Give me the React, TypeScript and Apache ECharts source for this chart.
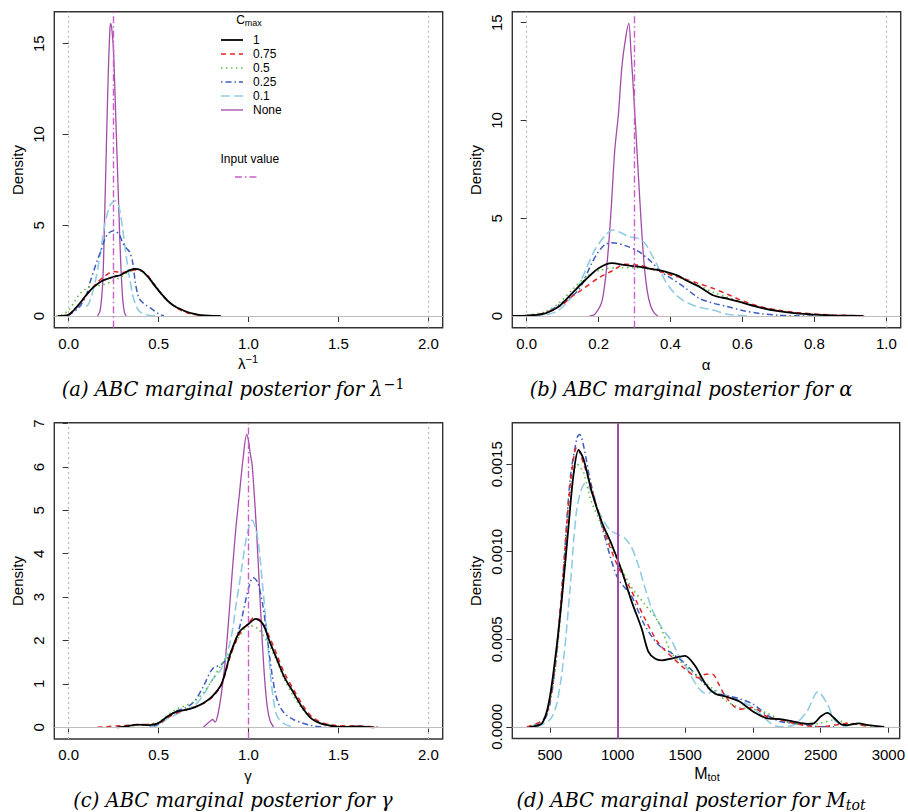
import React, { useEffect, useRef } from 'react';
import * as echarts from 'echarts';

// ---------- Panel (a): lambda^-1 ----------
const aNone = [[0.16,0],[0.175,0.3],[0.19,2],[0.2,5.5],[0.21,9.5],[0.22,13.3],[0.23,15.9],[0.235,16.1],[0.242,15.6],[0.25,14.5],[0.26,11.5],[0.27,8.5],[0.28,5.5],[0.29,2.8],[0.3,1.0],[0.31,0.2],[0.32,0]];
const aC01 = [[-0.03,0],[0,0.08],[0.03,0.4],[0.06,0.55],[0.1,0.55],[0.12,0.9],[0.15,2.0],[0.18,3.7],[0.2,5.0],[0.23,6.1],[0.26,6.35],[0.28,6.0],[0.3,4.8],[0.32,3.3],[0.34,2.0],[0.36,1.0],[0.38,0.45],[0.4,0.2],[0.45,0.03],[0.5,0]];
const aC025 = [[-0.03,0],[0,0.05],[0.05,0.4],[0.08,0.8],[0.1,1.2],[0.12,1.9],[0.14,2.5],[0.16,3.1],[0.18,3.6],[0.2,4.2],[0.22,4.55],[0.25,4.7],[0.28,4.5],[0.3,4.05],[0.32,3.75],[0.34,3.5],[0.355,3.0],[0.37,1.9],[0.385,1.15],[0.4,0.85],[0.43,0.6],[0.46,0.4],[0.5,0.12],[0.53,0]];
const aC05 = [[-0.07,0],[-0.04,0.05],[0,0.33],[0.03,0.75],[0.06,1.2],[0.09,1.45],[0.12,1.62],[0.16,1.65],[0.2,1.75],[0.24,1.9],[0.29,2.15],[0.33,2.4],[0.37,2.55],[0.4,2.5],[0.45,2.1],[0.5,1.45],[0.55,0.85],[0.6,0.5],[0.65,0.22],[0.7,0.08],[0.75,0.03],[0.82,0]];
const aC075 = [[-0.05,0],[0,0.08],[0.05,0.55],[0.1,1.15],[0.15,1.75],[0.2,2.2],[0.25,2.45],[0.3,2.4],[0.35,2.5],[0.38,2.55],[0.42,2.4],[0.45,2.1],[0.5,1.4],[0.55,0.85],[0.6,0.45],[0.65,0.2],[0.7,0.08],[0.75,0.02],[0.8,0]];
const aC1 = [[-0.06,0],[-0.03,0.01],[0,0.06],[0.03,0.33],[0.07,0.8],[0.105,1.25],[0.14,1.6],[0.18,1.9],[0.217,2.05],[0.254,2.17],[0.29,2.26],[0.33,2.48],[0.365,2.6],[0.4,2.53],[0.44,2.17],[0.476,1.7],[0.513,1.25],[0.55,0.84],[0.587,0.55],[0.624,0.37],[0.66,0.22],[0.7,0.11],[0.735,0.05],[0.78,0.02],[0.846,0]];

// ---------- Panel (b): alpha ----------
const bNone = [[0.175,0],[0.19,0.1],[0.21,0.8],[0.225,3],[0.235,5.5],[0.245,8.5],[0.255,10.3],[0.265,12.8],[0.275,14.2],[0.284,14.96],[0.29,13.5],[0.297,11.5],[0.305,9],[0.315,5.8],[0.325,3],[0.335,1.3],[0.345,0.5],[0.355,0.15],[0.365,0]];
const bC01 = [[0.02,0],[0.04,0.02],[0.08,0.2],[0.11,0.65],[0.14,1.4],[0.17,2.6],[0.19,3.4],[0.22,4.15],[0.24,4.4],[0.265,4.23],[0.285,4.05],[0.31,3.97],[0.33,3.7],[0.35,3.05],[0.372,2.27],[0.39,1.65],[0.42,1.0],[0.45,0.65],[0.48,0.45],[0.52,0.3],[0.55,0.12],[0.58,0.04],[0.62,0]];
const bC025 = [[-0.02,0],[0,0.02],[0.05,0.15],[0.1,0.7],[0.144,1.33],[0.181,2.7],[0.2,3.3],[0.218,3.65],[0.237,3.75],[0.274,3.6],[0.311,3.3],[0.348,2.75],[0.372,2.27],[0.4,1.95],[0.44,1.45],[0.48,0.9],[0.52,0.65],[0.56,0.47],[0.6,0.28],[0.65,0.12],[0.7,0.04],[0.75,0.01],[0.8,0]];
const bC05 = [[-0.04,0],[0,0.05],[0.052,0.22],[0.089,0.65],[0.126,1.33],[0.163,1.98],[0.2,2.32],[0.255,2.47],[0.311,2.47],[0.367,2.32],[0.4,2.15],[0.44,1.85],[0.48,1.55],[0.52,1.2],[0.56,0.95],[0.6,0.7],[0.65,0.45],[0.7,0.28],[0.75,0.16],[0.8,0.09],[0.85,0.04],[0.9,0.01],[0.94,0]];
const bC075 = [[-0.04,0],[0,0.03],[0.05,0.15],[0.1,0.6],[0.126,1.0],[0.15,1.3],[0.2,1.95],[0.237,2.3],[0.274,2.65],[0.311,2.6],[0.35,2.4],[0.4,2.1],[0.44,1.9],[0.48,1.65],[0.52,1.4],[0.56,1.1],[0.6,0.78],[0.65,0.48],[0.7,0.3],[0.75,0.18],[0.8,0.1],[0.85,0.05],[0.9,0.02],[0.94,0]];
const bC1 = [[-0.04,0],[0,0.02],[0.052,0.14],[0.089,0.48],[0.126,1.16],[0.163,1.84],[0.2,2.44],[0.237,2.7],[0.274,2.6],[0.311,2.52],[0.348,2.4],[0.385,2.27],[0.422,2.05],[0.44,1.85],[0.48,1.5],[0.52,1.05],[0.56,0.88],[0.6,0.68],[0.65,0.43],[0.7,0.25],[0.75,0.13],[0.8,0.07],[0.852,0.03],[0.935,0]];

// ---------- Panel (c): gamma ----------
const cNone = [[0.75,0],[0.77,0.08],[0.79,0.15],[0.8,0.18],[0.815,0.12],[0.83,0.3],[0.85,0.8],[0.87,1.5],[0.89,2.5],[0.91,3.6],[0.93,4.6],[0.95,5.4],[0.97,6.2],[0.99,6.75],[1.0,6.6],[1.01,6.3],[1.02,6.05],[1.03,5.5],[1.045,4.5],[1.06,3.3],[1.075,2.1],[1.09,1.1],[1.105,0.45],[1.12,0.15],[1.14,0]];
const cC01 = [[0.45,0],[0.5,0.05],[0.55,0.2],[0.6,0.3],[0.65,0.4],[0.7,0.5],[0.75,0.75],[0.8,1.1],[0.85,1.35],[0.9,2.0],[0.93,2.8],[0.96,3.6],[0.99,4.4],[1.02,4.77],[1.05,4.4],[1.08,3.2],[1.1,2.3],[1.12,1.3],[1.14,0.6],[1.16,0.25],[1.2,0.08],[1.25,0]];
const cC025 = [[0.45,0],[0.5,0.08],[0.55,0.25],[0.6,0.38],[0.65,0.45],[0.7,0.6],[0.75,0.95],[0.8,1.35],[0.85,1.45],[0.9,1.7],[0.95,2.3],[1.0,3.2],[1.025,3.45],[1.05,3.35],[1.08,2.8],[1.1,2.2],[1.13,1.25],[1.16,0.62],[1.2,0.32],[1.25,0.18],[1.3,0.1],[1.35,0.04],[1.4,0.01],[1.43,0]];
const cC05 = [[0.3,0],[0.35,0.03],[0.4,0.05],[0.5,0.12],[0.55,0.28],[0.6,0.42],[0.65,0.5],[0.7,0.6],[0.75,0.8],[0.8,1.1],[0.85,1.45],[0.9,1.75],[0.95,2.1],[1.0,2.35],[1.05,2.28],[1.1,2.0],[1.15,1.6],[1.2,1.1],[1.25,0.72],[1.3,0.42],[1.35,0.22],[1.4,0.1],[1.5,0.03],[1.6,0.01],[1.7,0]];
const cC075 = [[0.16,0],[0.2,0.01],[0.3,0.04],[0.4,0.06],[0.5,0.09],[0.55,0.22],[0.6,0.33],[0.65,0.4],[0.7,0.47],[0.75,0.55],[0.8,0.7],[0.85,0.98],[0.9,1.65],[0.95,2.15],[1.0,2.4],[1.03,2.52],[1.07,2.45],[1.12,2.05],[1.16,1.65],[1.2,1.25],[1.25,0.88],[1.3,0.52],[1.35,0.25],[1.4,0.12],[1.45,0.06],[1.5,0.04],[1.6,0.03],[1.7,0.01],[1.72,0]];
const cC1 = [[0.27,0],[0.32,0.02],[0.38,0.06],[0.45,0.05],[0.5,0.1],[0.55,0.25],[0.6,0.36],[0.65,0.4],[0.7,0.46],[0.75,0.56],[0.8,0.72],[0.85,1.0],[0.9,1.7],[0.95,2.2],[1.0,2.38],[1.04,2.5],[1.08,2.38],[1.12,1.95],[1.16,1.55],[1.2,1.15],[1.25,0.8],[1.3,0.45],[1.35,0.2],[1.4,0.09],[1.45,0.04],[1.5,0.01],[1.55,0.01],[1.6,0.02],[1.65,0.01],[1.7,0]];

// ---------- Panel (d): M_tot ----------
const dC01 = [[400,0],[500,0.00004],[550,0.00013],[600,0.00038],[650,0.0008],[700,0.00125],[760,0.00139],[800,0.00135],[850,0.00125],[900,0.00117],[950,0.00112],[1000,0.0011],[1050,0.00108],[1100,0.00103],[1150,0.00093],[1200,0.0008],[1250,0.00068],[1300,0.0006],[1350,0.00054],[1400,0.00049],[1450,0.00041],[1500,0.00035],[1550,0.00028],[1600,0.00022],[1650,0.00019],[1700,0.0002],[1750,0.00021],[1800,0.00018],[1900,0.00015],[2000,0.00011],[2100,0.00004],[2150,0.00001],[2200,0],[2300,0.00001],[2400,0.00009],[2480,0.0002],[2550,0.00013],[2600,0.00004],[2650,0.00001],[2700,0]];
const dC025 = [[350,0],[450,0.00003],[500,0.00013],[550,0.00042],[600,0.0009],[650,0.00142],[700,0.00165],[720,0.00167],[750,0.0016],[800,0.0014],[900,0.0011],[1000,0.00085],[1100,0.00075],[1200,0.00058],[1300,0.00047],[1400,0.00042],[1500,0.00036],[1600,0.00028],[1700,0.0002],[1800,0.00018],[1900,0.00016],[2000,0.00013],[2100,0.00007],[2200,0.00003],[2300,0.00002],[2400,0.00001],[2500,0],[2600,0]];
const dC05 = [[350,0],[450,0.00004],[500,0.00014],[550,0.0004],[600,0.00085],[650,0.0013],[700,0.0015],[750,0.00145],[800,0.0013],[900,0.00112],[1000,0.00095],[1100,0.0008],[1200,0.0007],[1300,0.0006],[1400,0.00042],[1500,0.00035],[1600,0.00028],[1700,0.00022],[1800,0.00015],[1900,0.00011],[2000,0.0001],[2100,0.00008],[2200,0.00004],[2300,0.00002],[2400,0.00001],[2500,0.00002],[2600,0.00004],[2700,0.00002],[2800,0.00001],[2900,0]];
const dC075 = [[330,0],[450,0.00004],[500,0.00015],[550,0.00045],[600,0.0009],[650,0.00138],[700,0.0016],[750,0.0015],[800,0.00138],[900,0.00112],[1000,0.00092],[1100,0.00078],[1200,0.00062],[1300,0.00048],[1400,0.0004],[1500,0.00033],[1600,0.00028],[1650,0.0003],[1700,0.0003],[1750,0.00024],[1800,0.00017],[1900,0.0001],[2000,0.00011],[2100,0.00006],[2200,0.00004],[2300,0.00002],[2400,0.000005],[2500,0],[2600,0.00001],[2700,0.00002],[2800,0.00001],[2850,0]];
const dC1 = [[350,0],[441,0.00002],[490,0.00013],[539,0.00039],[588,0.00073],[638,0.00115],[674,0.00144],[711,0.00158],[748,0.00153],[810,0.00134],[883,0.00117],[957,0.00104],[1031,0.00089],[1104,0.000715],[1178,0.00056],[1227,0.00043],[1276,0.00039],[1325,0.00038],[1399,0.00039],[1497,0.000405],[1571,0.00035],[1645,0.00025],[1718,0.00019],[1800,0.000173],[1900,0.000145],[2000,0.0000875],[2100,0.00005],[2200,0.000044],[2300,0.00003],[2400,0.000017],[2450,0.00002],[2500,0.000059],[2550,0.00008],[2600,0.00005],[2650,0.000015],[2700,0.00001],[2780,0.00002],[2850,0.00001],[2970,0]];

// ---------- Tick labels, legend, input values ----------
const aXTicks = [0, 0.5, 1, 1.5, 2];
const aYTicks = [0, 5, 10, 15];
const bXTicks = [0, 0.2, 0.4, 0.6, 0.8, 1];
const bYTicks = [0, 5, 10, 15];
const cXTicks = [0, 0.5, 1, 1.5, 2];
const cYTicks = [0, 1, 2, 3, 4, 5, 6, 7];
const dXTicks = [500, 1000, 1500, 2000, 2500, 3000];
const dYTicks = [0, 0.0005, 0.001, 0.0015];
const legendLabels = ['1', '0.75', '0.5', '0.25', '0.1', 'None'];
const inputValues = [0.25, 0.3, 1, 1000];
const priorBounds = [[0, 2], [0, 1], [0, 2], []];

const STY = {
  c1: { color: '#000000', width: 1.8, type: 'solid' as any },
  c075: { color: '#E3262C', width: 1.5, type: [5, 4] as any },
  c05: { color: '#5CBF45', width: 1.6, type: [1.5, 3.5] as any },
  c025: { color: '#3C5CC0', width: 1.5, type: [1.5, 3, 6, 3] as any },
  c01: { color: '#92CCE2', width: 1.6, type: [9, 4] as any },
  none: { color: '#A24BA8', width: 1.3, type: 'solid' as any },
};
const INPUT_COLOR = '#C95EC9';
const legendStyles = [STY.c1, STY.c075, STY.c05, STY.c025, STY.c01, STY.none];

const FONT = 'Liberation Sans, Arial, sans-serif';
const SERIF = 'DejaVu Serif, serif';

export default function App() {
  const ref = useRef<HTMLDivElement>(null);
  useEffect(() => {
    if (!ref.current) return;
    const chart = echarts.init(ref.current, undefined, { renderer: 'svg' });

    const panels = [
      { grid: { left: 54.3, top: 11.7, width: 388.4, height: 316 }, x: [-0.08, 2.08], y: [-0.645, 16.76], xt: aXTicks, yt: aYTicks, xf: (v: number) => v.toFixed(1), yf: (v: number) => String(v),
        series: [['none', aNone], ['c01', aC01], ['c025', aC025], ['c05', aC05], ['c075', aC075], ['c1', aC1]] },
      { grid: { left: 512.3, top: 11.7, width: 388.4, height: 316 }, x: [-0.04, 1.04], y: [-0.598, 15.56], xt: bXTicks, yt: bYTicks, xf: (v: number) => v.toFixed(1), yf: (v: number) => String(v),
        series: [['none', bNone], ['c01', bC01], ['c025', bC025], ['c05', bC05], ['c075', bC075], ['c1', bC1]] },
      { grid: { left: 54.3, top: 422.7, width: 388.4, height: 316.3 }, x: [-0.08, 2.08], y: [-0.27, 7.02], xt: cXTicks, yt: cYTicks, xf: (v: number) => v.toFixed(1), yf: (v: number) => String(v),
        series: [['none', cNone], ['c01', cC01], ['c025', cC025], ['c05', cC05], ['c075', cC075], ['c1', cC1]] },
      { grid: { left: 512.3, top: 422.7, width: 388.4, height: 315.8 }, x: [222, 3084], y: [-0.0000668, 0.001737], xt: dXTicks, yt: dYTicks, xf: (v: number) => String(v), yf: (v: number) => v.toFixed(4),
        series: [['c01', dC01], ['c025', dC025], ['c05', dC05], ['c075', dC075], ['c1', dC1]] },
    ];

    const grids: any[] = [];
    const xAxes: any[] = [];
    const yAxes: any[] = [];
    const series: any[] = [];
    const labelStyle = { fontSize: 15, fontFamily: FONT, color: '#000' };

    panels.forEach((p, i) => {
      grids.push({ ...p.grid, show: true, borderColor: '#333', borderWidth: 1.4, backgroundColor: 'transparent' });
      xAxes.push({
        gridIndex: i, type: 'value', min: p.x[0], max: p.x[1],
        axisLine: { show: false }, splitLine: { show: false },
        axisTick: { show: true, length: 6, lineStyle: { color: '#333' }, customValues: p.xt },
        axisLabel: { ...labelStyle, margin: 8, customValues: p.xt, formatter: p.xf },
      });
      yAxes.push({
        gridIndex: i, type: 'value', min: p.y[0], max: p.y[1],
        axisLine: { show: false }, splitLine: { show: false },
        axisTick: { show: true, length: 6, lineStyle: { color: '#333' }, customValues: p.yt },
        axisLabel: { ...labelStyle, rotate: 90, margin: 8, customValues: p.yt, formatter: p.yf },
      });
      series.push({
        type: 'line', xAxisIndex: i, yAxisIndex: i, data: [], silent: true,
        markLine: {
          silent: true, symbol: ['none', 'none'], label: { show: false }, animation: false,
          data: [
            { yAxis: 0, lineStyle: { color: '#BEBEBE', width: 1.2, type: 'solid' } },
            ...priorBounds[i].map((b) => ({ xAxis: b, lineStyle: { color: '#B8B8B8', width: 1.2, type: [2, 3] } })),
          ],
        },
      });
      p.series.forEach(([key, data]: any) => {
        series.push({
          type: 'line', xAxisIndex: i, yAxisIndex: i, data, showSymbol: false, symbol: 'none',
          smooth: 0.3, lineStyle: { ...(STY as any)[key] }, silent: true,
        });
      });
      const inputData: any[] = [];
      if (i === 3) inputData.push({ xAxis: inputValues[i], lineStyle: { color: STY.none.color, width: 2, type: 'solid' } });
      else inputData.push({ xAxis: inputValues[i], lineStyle: { color: INPUT_COLOR, width: 1.4, type: [7, 3, 1.5, 3] } });
      series.push({
        type: 'line', xAxisIndex: i, yAxisIndex: i, data: [], silent: true,
        markLine: { silent: true, symbol: ['none', 'none'], label: { show: false }, animation: false, data: inputData },
      });
    });

    const graphic: any[] = [];
    const ctext = (x: number, y: number, text: string, style: any, extra: any = {}) =>
      graphic.push({ type: 'text', x, y, silent: true, ...extra, style: { text, fill: '#000', align: 'center', verticalAlign: 'middle', ...style } });

    [[17, 170], [475, 170], [17, 581], [475, 581]].forEach(([x, y]) =>
      ctext(x, y, 'Density', { fontSize: 15, fontFamily: FONT }, { rotation: Math.PI / 2 }));
    const sup = { fontSize: 11, fontFamily: FONT, padding: [0, 0, 9, 0] };
    const sub = { fontSize: 11, fontFamily: FONT, padding: [8, 0, 0, 0] };
    ctext(248, 363, 'λ{sup|−1}', { fontSize: 15, fontFamily: FONT, rich: { sup } });
    ctext(706, 364, 'α', { fontSize: 15, fontFamily: FONT });
    ctext(248, 775, 'γ', { fontSize: 15, fontFamily: FONT });
    ctext(707, 773, 'M{sub|tot}', { fontSize: 16, fontFamily: FONT, rich: { sub } });

    const capStyle = { fontSize: 19.5, fontFamily: SERIF, fontStyle: 'italic' };
    ctext(233, 389, '(a) ABC marginal posterior for λ{sup|−1}', { ...capStyle, rich: { sup: { fontSize: 14, fontFamily: SERIF, fontStyle: 'normal', padding: [0, 0, 11, 1] } } });
    ctext(691, 389, '(b) ABC marginal posterior for α', capStyle);
    ctext(233, 800, '(c) ABC marginal posterior for γ', capStyle);
    ctext(691, 800, '(d) ABC marginal posterior for M{sub|tot}', { ...capStyle, rich: { sub: { fontSize: 14, fontFamily: SERIF, fontStyle: 'italic', padding: [9, 0, 0, 0] } } });

    ctext(249, 20, 'C{sub|max}', { fontSize: 12, fontFamily: FONT, rich: { sub: { fontSize: 9, fontFamily: FONT, padding: [6, 0, 0, 0] } } });
    const rowY = [40, 54, 68, 82, 96, 110];
    legendLabels.forEach((lab, k) => {
      const st = legendStyles[k];
      graphic.push({ type: 'line', silent: true, shape: { x1: 221, y1: rowY[k], x2: 243, y2: rowY[k] },
        style: { stroke: st.color, lineWidth: st.width, lineDash: st.type === 'solid' ? null : st.type } });
      graphic.push({ type: 'text', x: 253, y: rowY[k], silent: true, style: { text: lab, fill: '#000', fontSize: 12, fontFamily: FONT, align: 'left', verticalAlign: 'middle' } });
    });
    graphic.push({ type: 'text', x: 220.5, y: 159, silent: true, style: { text: 'Input value', fill: '#000', fontSize: 12, fontFamily: FONT, align: 'left', verticalAlign: 'middle' } });
    graphic.push({ type: 'line', silent: true, shape: { x1: 235, y1: 177, x2: 257, y2: 177 }, style: { stroke: INPUT_COLOR, lineWidth: 1.4, lineDash: [7, 3, 1.5, 3] } });

    chart.setOption({
      animation: false,
      grid: grids,
      xAxis: xAxes,
      yAxis: yAxes,
      series,
      graphic,
    });
    return () => chart.dispose();
  }, []);
  return <div ref={ref} style={{ position: 'absolute', left: 0, top: 0, width: 908, height: 812, background: '#fff' }} />;
}
